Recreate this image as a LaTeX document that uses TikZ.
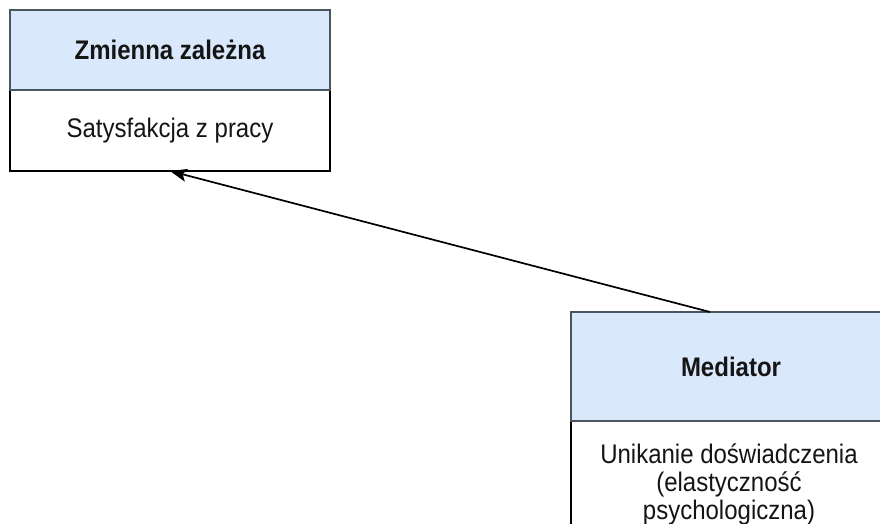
\documentclass[tikz,border=0pt]{standalone}
\usepackage{fontspec}
\setmainfont{Liberation Sans}
\usetikzlibrary{arrows.meta}

\definecolor{headfill}{HTML}{DAE8FC}
\definecolor{headline}{HTML}{4A5560}
\definecolor{textcol}{HTML}{151515}

% text set slightly taller than wide
\newcommand{\tallbox}[1]{\scalebox{1}[1.12]{#1}}

\tikzset{
  headbox/.style={draw=headline, fill=headfill, line width=1.7pt,
    minimum width=320pt, inner sep=0pt, outer sep=0pt, anchor=north west,
    font=\fontsize{24}{24}\selectfont\bfseries, text=textcol},
  bodybox/.style={draw=black, fill=white, line width=1.7pt,
    minimum width=320pt, inner sep=0pt, outer sep=0pt, anchor=north west,
    font=\fontsize{24}{24}\selectfont, text=textcol},
  plaintext/.style={inner sep=0pt, outer sep=0pt,
    font=\fontsize{24}{24}\selectfont, text=textcol},
  link/.style={line width=1.7pt, -{Stealth[length=17pt, width=13pt, inset=4pt]}}
}

\begin{document}
\begin{tikzpicture}[x=1pt, y=-1pt]
  \useasboundingbox (0,0) rectangle (880,524);
  \clip (0,0) rectangle (880,524);
  \fill[white] (0,0) rectangle (880,524);

  % dependent variable
  \node[bodybox, minimum height=81pt] (outbody) at (10,90)
    {\tallbox{Satysfakcja z pracy}};
  \node[headbox, minimum height=80pt] (outhead) at (10,10)
    {\tallbox{Zmienna zależna}};

  % mediator
  \node[bodybox, minimum height=200pt] (medbody) at (571,421) {};
  \node[headbox, minimum height=109pt] (medhead) at (571,312)
    {\tallbox{Mediator}};
  \node[plaintext, anchor=north] (medtext) at (729,444)
    {\tallbox{\begin{tabular}{@{}c@{}}Unikanie doświadczenia\\(elastyczność\\psychologiczna)\end{tabular}}};

  % path from mediator to the dependent variable
  \coordinate (medsrc) at ([xshift=-21pt]medhead.north);
  \draw[link] (medsrc) -- (outbody.south);
\end{tikzpicture}
\end{document}
